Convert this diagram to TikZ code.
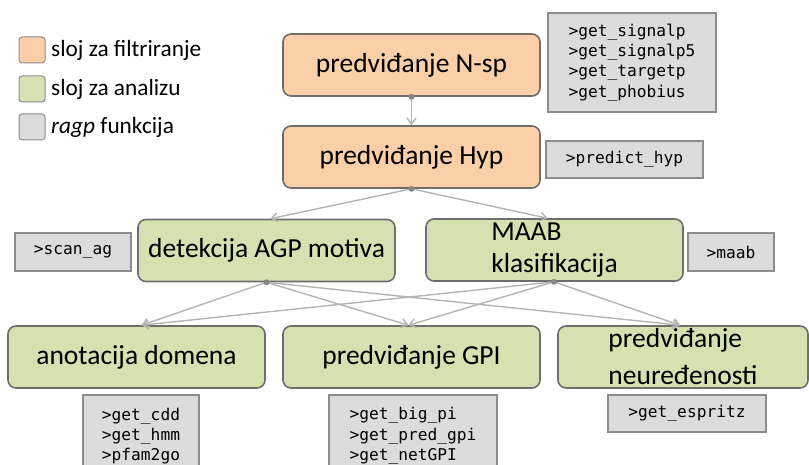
\documentclass[tikz,border=0pt]{standalone}
\usepackage{fontspec}
\setmainfont{Carlito}
\newfontfamily\monof{DejaVu Sans Mono}
\usetikzlibrary{arrows.meta}
\definecolor{orangef}{HTML}{FBD0A8}
\definecolor{greenf}{HTML}{D6E1B2}
\definecolor{bordc}{HTML}{6E6E6E}
\definecolor{fnf}{HTML}{DCDCDC}
\definecolor{fnb}{HTML}{8C8C8C}
\definecolor{linec}{HTML}{B4B4B4}
\definecolor{dotc}{HTML}{858585}
\tikzset{
  boxbase/.style={draw=bordc, rounded corners=8pt, line width=1.6pt, minimum width=257pt, minimum height=62pt, inner sep=0pt, font=\fontsize{27.5}{32}\selectfont, align=left},
  filt/.style={boxbase, fill=orangef},
  anal/.style={boxbase, fill=greenf},
  fnbox/.style={draw=fnb, fill=fnf, line width=1.2pt, inner sep=0pt, align=left, font=\monof\fontsize{16.2}{20.3}\selectfont},
  conn/.style={draw=linec, line width=1.4pt, -{Straight Barb[length=6pt,width=9pt]}},
  dot/.style={circle, fill=dotc, inner sep=0pt, minimum size=6pt},
  legsq/.style={draw=fnb, rounded corners=3pt, line width=1pt, minimum width=26pt, minimum height=26pt, inner sep=0pt},
  legtxt/.style={anchor=west, inner sep=0pt, font=\fontsize{23.3}{26}\selectfont}
}
\begin{document}
\begin{tikzpicture}[x=1pt,y=-1pt]
\useasboundingbox (0,0) rectangle (809,465);
\clip (0,0) rectangle (809,465);
% legend
\node[legsq, fill=orangef] (l1) at (32,50) {};
\node[legtxt] (t1) at (51,50) {sloj za filtriranje};
\node[legsq, fill=greenf] (l2) at (32,89) {};
\node[legtxt] (t2) at (51,89) {sloj za analizu};
\node[legsq, fill=fnf] (l3) at (32,127) {};
\node[legtxt] (t3) at (51,127) {\textit{ragp} funkcija};
% main nodes
\node[filt] (nsp) at (411.5,65) {predviđanje N-sp};
\node[filt] (hyp) at (411.5,157) {predviđanje Hyp};
\node[anal] (agp) at (266.5,250.5) {detekcija AGP motiva};
\node[anal] (maab) at (554.5,250) {MAAB\\klasifikacija};
\node[anal] (anot) at (136.5,357) {anotacija domena};
\node[anal] (gpi) at (411.5,357) {predviđanje GPI};
\node[anal, minimum width=250pt, font=\fontsize{27.5}{37}\selectfont] (neur) at (683,357) {predviđanje\\neuređenosti};
% function boxes
\node[fnbox, minimum width=168pt, minimum height=99pt] (f1) at (632,62.5) {>get\_signalp\\>get\_signalp5\\>get\_targetp\\>get\_phobius};
\node[fnbox, minimum width=157pt, minimum height=37pt] (f2) at (624.5,159.5) {>predict\_hyp};
\node[fnbox, minimum width=116pt, minimum height=38pt] (f3) at (73,252) {>scan\_ag};
\node[fnbox, minimum width=86pt, minimum height=38pt] (f4) at (731,252) {>maab};
\node[fnbox, minimum width=116pt, minimum height=82pt] (f5) at (141,436) {>get\_cdd\\>get\_hmm\\>pfam2go};
\node[fnbox, minimum width=168pt, minimum height=82pt] (f6) at (413,436) {>get\_big\_pi\\>get\_pred\_gpi\\>get\_netGPI};
\node[fnbox, minimum width=158pt, minimum height=37pt] (f7) at (687,413.5) {>get\_espritz};
% connectors
\coordinate (nspb) at (nsp.south);
\coordinate (hypb) at (hyp.south);
\coordinate (agpb) at (agp.south);
\coordinate (maabb) at ([xshift=-0.5pt]maab.south);
\draw[conn] (nspb) -- (hyp.north);
\draw[conn] (hypb) -- ([xshift=4pt]agp.north);
\draw[conn] (hypb) -- ([xshift=-7pt]maab.north);
\draw[conn] (agpb) -- ([xshift=5pt]anot.north);
\draw[conn] (agpb) -- ([xshift=-3pt]gpi.north);
\draw[conn] (agpb) -- ([xshift=-3pt]neur.north);
\draw[conn] (maabb) -- ([xshift=5pt]anot.north);
\draw[conn] (maabb) -- ([xshift=-3pt]gpi.north);
\draw[conn] (maabb) -- ([xshift=-3pt]neur.north);
\node[dot] (d1) at (nspb) {};
\node[dot] (d2) at (hypb) {};
\node[dot] (d3) at (agpb) {};
\node[dot] (d4) at (maabb) {};
\end{tikzpicture}
\end{document}
